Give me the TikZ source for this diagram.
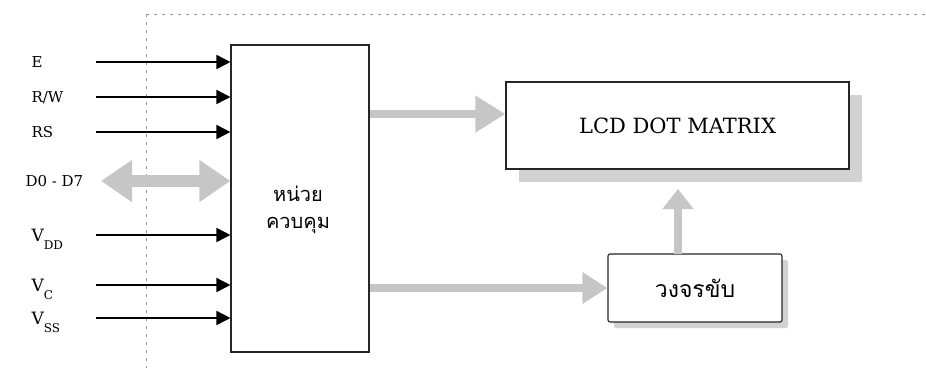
\documentclass[tikz,border=0pt]{standalone}
\usepackage{fontspec}
\setmainfont{DejaVu Serif}
\newfontfamily\thaifont[Script=Thai]{Loma}
\usetikzlibrary{positioning,arrows.meta,shadows}

\begin{document}
\begin{tikzpicture}[x=1pt,y=-1pt,
            blk/.style={draw=black!85, line width=1.1pt, fill=white},
            shd/.style={general shadow={fill=gray!35, shadow xshift=#1, shadow yshift=-#1}},
            inarr/.style={line width=1.6pt, -{Triangle[length=14pt,width=14pt]}},
            garr/.style={gray!45, line width=8pt, -{Triangle[length=28pt,width=32pt]}},
            guide/.style={gray!85, line width=1pt, dash pattern=on 3pt off 5pt},
            lbl/.style={anchor=base west, font=\fontsize{15}{17}\selectfont}]
        \useasboundingbox (0,0) rectangle (926,368);
        % guide lines
        \coordinate (g0) at (146,14);
        \draw[guide] (g0) -- (146,368) (g0) -- (926,14);
        % blocks
        \node[blk, minimum width=138pt, minimum height=307pt] (ctrl) at (300,198.5) {};
        \node[font=\thaifont\fontsize{20}{27}\selectfont, align=center] (ctrltxt) at (298,210) {หน่วย\\ควบคุม};
        \node[blk, shd=13pt, minimum width=343pt, minimum height=87pt,
              font=\fontsize{21}{24}\selectfont] (lcd) at (677.5,125.5) {LCD DOT MATRIX};
        \node[blk, shd=6pt, rounded corners=2pt, minimum width=174pt, minimum height=68pt,
              font=\thaifont\fontsize{23}{26}\selectfont] (drv) at (695,288) {วงจรขับ};
        % input labels
        \node[lbl] (lE)   at (28,67)  {E};
        \node[lbl] (lRW)  at (28,102) {R/W};
        \node[lbl] (lRS)  at (28,137) {RS};
        \node[lbl] (lD)   at (22,186) {D0 - D7};
        \node[lbl, font=\fontsize{17}{19}\selectfont] (lVdd) at (28,241) {V\raisebox{-8pt}{\fontsize{12}{13}\selectfont DD}};
        \node[lbl, font=\fontsize{17}{19}\selectfont] (lVc)  at (28,291) {V\raisebox{-8pt}{\fontsize{12}{13}\selectfont C}};
        \node[lbl, font=\fontsize{17}{19}\selectfont] (lVss) at (28,324) {V\raisebox{-8pt}{\fontsize{12}{13}\selectfont SS}};
        % input arrows
        \coordinate (sE) at (96,62);   \coordinate (sRW) at (96,97);
        \coordinate (sRS) at (96,132); \coordinate (sVdd) at (96,235);
        \coordinate (sVc) at (96,285); \coordinate (sVss) at (96,318);
        \foreach \s in {sE,sRW,sRS,sVdd,sVc,sVss}
          \draw[inarr] (\s) -- (\s -| ctrl.west);
        \coordinate (sD) at (101,181);
        \draw[gray!45, line width=12pt, {Triangle[length=31pt,width=40pt]}-{Triangle[length=31pt,width=40pt]}]
             (sD) -- (sD -| ctrl.west);
        % internal arrows
        \coordinate (cL) at (370,114);
        \draw[garr, -{Triangle[length=30pt,width=35pt]}] (cL) -- (cL -| lcd.west);
        \draw[garr, -{Triangle[length=25pt,width=30pt]}] (ctrl.east |- drv.west) -- (drv.west);
        \coordinate (cU) at (678,254); \coordinate (cU2) at (678,189);
        \draw[garr, -{Triangle[length=20pt,width=30pt]}] (cU) -- (cU2);
      \end{tikzpicture}
\end{document}
